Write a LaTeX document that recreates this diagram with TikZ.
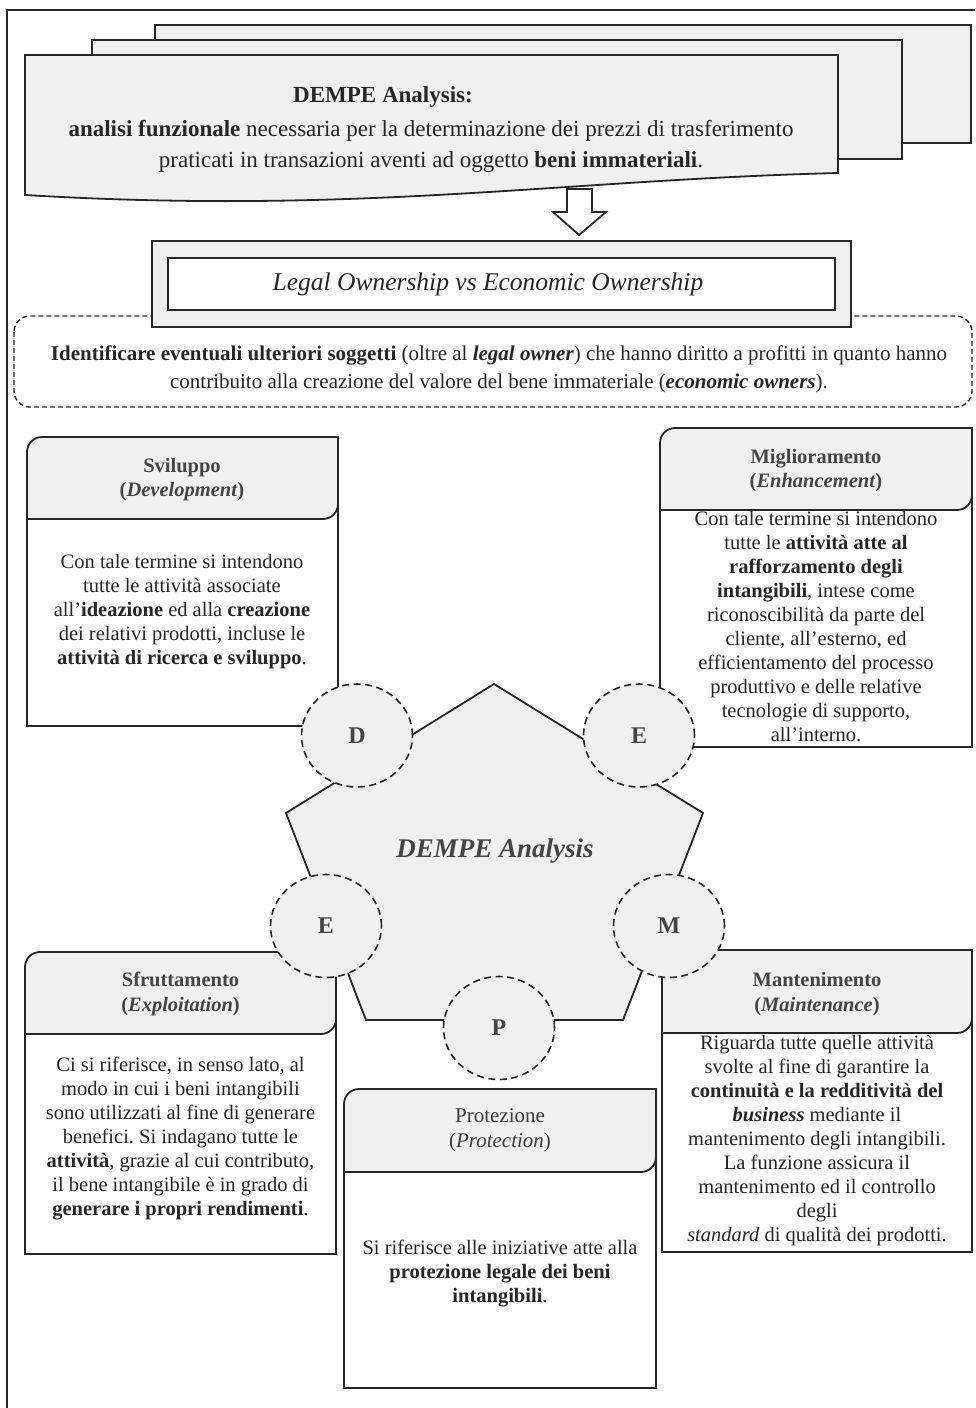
\documentclass[tikz,border=0pt]{standalone}
\usepackage{fontspec}
\setmainfont{Liberation Serif}
\usetikzlibrary{shapes.geometric}
\definecolor{paper}{HTML}{F0F0F0}
\definecolor{ink}{HTML}{262626}
\definecolor{titlegray}{HTML}{454545}
\frenchspacing

\begin{document}
\begin{tikzpicture}[x=1pt,y=-1pt,
    docpage/.style={draw=ink,fill=paper,line width=1.8pt},
    bodybox/.style={draw=ink,fill=white,line width=1.8pt},
    ring/.style={ellipse,draw=ink,fill=paper,line width=1.6pt,dash pattern=on 7pt off 4.5pt,
      minimum width=111pt,minimum height=103pt,text=titlegray,font=\fontsize{24}{24}\selectfont\bfseries},
    bodytext/.style={align=center,text=ink,inner sep=0pt,font=\fontsize{20.5}{24}\selectfont},
    titletext/.style={align=center,text=titlegray,inner sep=0pt,font=\fontsize{20.5}{24.5}\selectfont\bfseries}]
\useasboundingbox (0,0) rectangle (975,1408);
\draw[ink,line width=2pt] (7,1408) -- (7,10) -- (975,10);

% stacked pages
\draw[docpage] (155,25) rectangle (971,143);
\draw[docpage] (92,40) rectangle (902,159);
\draw[docpage] (25,55) -- (838,55) -- (838,173) .. controls (560,180) and (360,215) .. (25,195) -- cycle;
\node[bodytext,font=\fontsize{23}{31}\selectfont] (dempehead) at (383,97) {\textbf{DEMPE Analysis:}};
\node[bodytext,font=\fontsize{23}{31}\selectfont] (dempedesc) at (431,146)
  {\textbf{analisi funzionale} necessaria per la determinazione dei prezzi di trasferimento\\
   praticati in transazioni aventi ad oggetto \textbf{beni immateriali}.};

\draw[bodybox] (567,189) -- (592,189) -- (592,212) -- (606,212) -- (579,235) -- (553,212) -- (567,212) -- cycle;

% ownership
\draw[ink,line width=1.4pt,dash pattern=on 5pt off 3pt,rounded corners=16pt] (14,316) rectangle (972,407);
\node[bodytext,font=\fontsize{21}{28}\selectfont] (ownersnote) at (499,369)
  {\textbf{Identificare eventuali ulteriori soggetti} (oltre al \textbf{\textit{legal owner}}) che hanno diritto a profitti in quanto hanno\\
   contribuito alla creazione del valore del bene immateriale (\textbf{\textit{economic owners}}).};
\draw[docpage] (152,241) rectangle (851,327);
\draw[bodybox] (168,258) rectangle (835,310);
\node[bodytext,font=\fontsize{25.5}{25.5}\selectfont] (legalvs) at (488,284) {\textit{Legal Ownership vs Economic Ownership}};

% function boxes
\foreach \xa/\ya/\yh/\xb/\yb in {27/437/519/338/726, 660/428/510/972/747, 25/952/1034/336/1254,
    344/1089/1172/656/1388, 662/950/1033/972/1252} {
  \draw[bodybox] (\xa,\ya+25) rectangle (\xb,\yb);
  \draw[docpage] (\xa,\yh) -- (\xa,\ya+15) arc[start angle=180,end angle=270,radius=15]
    -- (\xb,\ya) -- (\xb,\yh-15) arc[start angle=0,end angle=90,radius=15] -- cycle;
}

\node[titletext] (devtitle) at (182,479.5) {Sviluppo\\(\textit{Development})};
\node[bodytext] (devbody) at (182,611.5) {Con tale termine si intendono\\
  tutte le attività associate\\
  all’\textbf{ideazione} ed alla \textbf{creazione}\\
  dei relativi prodotti, incluse le\\
  \textbf{attività di ricerca e sviluppo}.};

\node[titletext] (enhtitle) at (816,470.5) {Miglioramento\\(\textit{Enhancement})};
\node[bodytext] (enhbody) at (816,627) {Con tale termine si intendono\\
  tutte le \textbf{attività atte al}\\
  \textbf{rafforzamento degli}\\
  \textbf{intangibili}, intese come\\
  riconoscibilità da parte del\\
  cliente, all’esterno, ed\\
  efficientamento del processo\\
  produttivo e delle relative\\
  tecnologie di supporto,\\
  all’interno.};

\node[titletext] (exptitle) at (180.5,994) {Sfruttamento\\(\textit{Exploitation})};
\node[bodytext] (expbody) at (180.5,1139) {Ci si riferisce, in senso lato, al\\
  modo in cui i beni intangibili\\
  sono utilizzati al fine di generare\\
  benefici. Si indagano tutte le\\
  \textbf{attività}, grazie al cui contributo,\\
  il bene intangibile è in grado di\\
  \textbf{generare i propri rendimenti}.};

\node[titletext,text=ink!90,font=\fontsize{21}{24.5}\selectfont] (protitle) at (500,1130.5) {Protezione\\(\textit{Protection})};
\node[bodytext] (probody) at (500,1273.5) {Si riferisce alle iniziative atte alla\\
  \textbf{protezione legale dei beni}\\
  \textbf{intangibili}.};

\node[titletext] (maititle) at (817,994) {Mantenimento\\(\textit{Maintenance})};
\node[bodytext] (maibody) at (817,1141) {Riguarda tutte quelle attività\\
  svolte al fine di garantire la\\
  \textbf{continuità e la redditività del}\\
  \textbf{\textit{business}} mediante il\\
  mantenimento degli intangibili.\\
  La funzione assicura il\\
  mantenimento ed il controllo\\
  degli\\
  \textit{standard} di qualità dei prodotti.};

% pentagon
\draw[docpage] (494,684) -- (703,813) -- (623,1020) -- (366,1020) -- (286,813) -- cycle;
\node[text=titlegray,font=\fontsize{27}{27}\selectfont\bfseries\itshape] (dempe) at (495,851) {DEMPE Analysis};
\foreach \n/\cx/\cy/\l in {dev/357/735.5/D, enh/639/735.5/E, mai/669/926/M, pro/499/1028/P, exp/326/926/E}
  \node[ring] (\n) at (\cx,\cy) {\l};
\end{tikzpicture}
\end{document}
